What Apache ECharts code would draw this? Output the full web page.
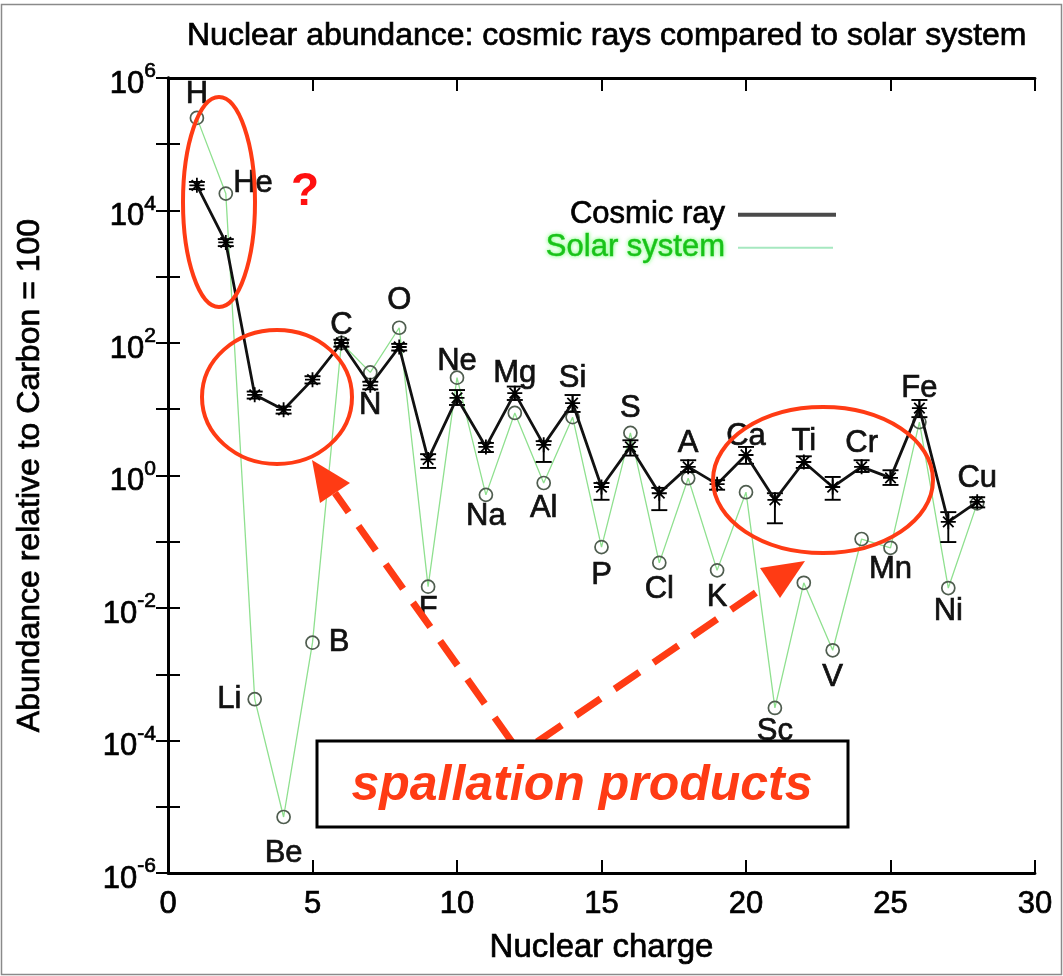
<!DOCTYPE html>
<html><head><meta charset="utf-8">
<script src="https://cdn.jsdelivr.net/npm/echarts@6/dist/echarts.min.js"></script>
<style>html,body{margin:0;padding:0;background:#fff}#c{width:1063px;height:976px}</style>
</head><body><div id="c"></div>
<script>
// ---------- data ----------
const elements = ['H','He','Li','Be','B','C','N','O','F','Ne','Na','Mg','Al','Si','P','S','Cl','A','K','Ca','Sc','Ti','V','Cr','Mn','Fe','Ni','Cu'];
const charges = [1,2,3,4,5,6,7,8,9,10,11,12,13,14,15,16,17,18,19,20,21,22,23,24,25,26,27,28];
const cosmicRay   = [2.4e4, 3.3e3, 16.5, 9.8, 28, 100, 23, 87, 1.75, 14.8, 2.7, 17.5, 2.9, 12.4, 0.67, 2.7, 0.54, 1.35, 0.74, 2.04, 0.43, 1.6, 0.67, 1.35, 0.92, 10.4, 0.20, 0.40];
const cosmicLow   = [2.1e4, 2.9e3, 14.5, 8.6, 24.5, 88, 20, 77, 1.30, 11.6, 2.26, 13.8, 1.6, 9.1, 0.43, 2.0, 0.30, 1.13, 0.61, 1.5, 0.19, 1.3, 0.43, 1.13, 0.72, 7.6, 0.099, 0.33];
const cosmicHigh  = [2.7e4, 3.7e3, 18.5, 11.0, 31.5, 112, 26, 97, 2.10, 19.5, 3.1, 22, 3.3, 16.4, 0.77, 3.4, 0.65, 1.7, 0.85, 2.7, 0.54, 1.95, 0.95, 1.7, 1.2, 13.8, 0.28, 0.47];
const solarSystem = [2.5e5, 1.8e4, 4.2e-4, 7e-6, 3e-3, 100, 36, 170, 0.021, 30, 0.51, 8.8, 0.77, 7.6, 0.083, 4.4, 0.048, 0.91, 0.037, 0.56, 3.1e-4, 0.024, 0.0023, 0.11, 0.081, 6.4, 0.020, 0.38];
const xTicks = [0, 5, 10, 15, 20, 25, 30];

// ---------- style: which series each element label sits on, side, distance ----------
const labelPlace = {
  H:['s','top',1], He:['s','right',0,[0,-10]], Li:['s','left',6], Be:['s','bottom',14], B:['s','right',9],
  C:['c','top',-6], N:['c','bottom',-4], O:['s','top',4], F:['s','bottom',0], Ne:['s','top',-7],
  Na:['s','bottom',-1], Mg:['c','top',-4], Al:['s','bottom',3], Si:['c','top',1], P:['s','bottom',5],
  S:['s','top',2], Cl:['s','bottom',4], A:['c','top',0], K:['s','bottom',4], Ca:['c','top',-5],
  Sc:['s','bottom',1], Ti:['c','top',-3], V:['s','bottom',4], Cr:['c','top',0], Mn:['s','bottom',-1],
  Fe:['c','top',-4], Ni:['s','bottom',1], Cu:['c','top',0]
};
const FONT = "'Liberation Sans', Arial, Helvetica, sans-serif";
const RED = '#ff3b14';
const heavy = (c) => ({ textBorderColor: c, textBorderWidth: 0.7 });

function items(values, key) {
  return values.map((v, i) => {
    const it = { value: [charges[i], v] };
    const p = labelPlace[elements[i]];
    if (p && p[0] === key) {
      it.label = Object.assign({ show: true, formatter: elements[i], position: p[1], distance: p[2],
        offset: p[3] || [0, 0], fontSize: 31, fontFamily: FONT, color: '#111' }, heavy('#111'));
    }
    return it;
  });
}

const chart = echarts.init(document.getElementById('c'), null, { renderer: 'canvas' });
const axisLineStyle = { color: '#000', width: 2.8 };
const option = {
  animation: false,
  backgroundColor: '#fff',
  title: {
    text: 'Nuclear abundance: cosmic rays compared to solar system',
    left: 182, top: 15,
    textStyle: Object.assign({ fontFamily: FONT, fontSize: 32, fontWeight: 'normal', color: '#000' }, heavy('#000'))
  },
  grid: { left: 168, right: 28, top: 78, bottom: 103, containLabel: false },
  legend: [
    { data: [{ name: 'Cosmic ray', icon: 'rect', itemStyle: { color: '#4a4a4a', borderWidth: 0 } }],
      right: 222, top: 194, align: 'right', itemWidth: 98, itemHeight: 4, itemGap: 0,
      selectedMode: false, textStyle: Object.assign({ fontFamily: FONT, fontSize: 31, color: '#000', padding: [0, 8, 0, 0] }, heavy('#000')) },
    { data: [{ name: 'Solar system', icon: 'rect', itemStyle: { color: '#a6e8c0', borderWidth: 0 } }],
      right: 225, top: 227, align: 'right', itemWidth: 95, itemHeight: 2, itemGap: 0,
      selectedMode: false, textStyle: { fontFamily: FONT, fontSize: 31, color: '#19c219',
        textShadowColor: '#7f7', textShadowBlur: 4, textBorderColor: '#19c219', textBorderWidth: 0.6, padding: [0, 8, 0, 0] } }
  ],
  xAxis: [
    { type: 'value', min: 0, max: 30, interval: 5, position: 'bottom',
      name: 'Nuclear charge', nameLocation: 'middle', nameGap: 58,
      nameTextStyle: Object.assign({ fontFamily: FONT, fontSize: 33, color: '#000' }, heavy('#000')),
      axisLine: { show: true, lineStyle: axisLineStyle },
      axisTick: { show: true, inside: true, length: 13, lineStyle: { color: '#000', width: 2 } },
      axisLabel: Object.assign({ fontFamily: FONT, fontSize: 31, color: '#000', margin: 16,
        formatter: v => xTicks.includes(v) ? String(v) : '' }, heavy('#000')),
      splitLine: { show: false } },
    { type: 'value', min: 0, max: 30, interval: 5, position: 'top',
      axisLine: { show: true, lineStyle: axisLineStyle },
      axisTick: { show: true, inside: true, length: 13, lineStyle: { color: '#000', width: 2 } },
      axisLabel: { show: false }, splitLine: { show: false } }
  ],
  yAxis: [
    { type: 'log', logBase: 10, min: 1e-6, max: 1e6, interval: 1, position: 'left',
      name: 'Abundance relative to Carbon = 100', nameLocation: 'middle', nameGap: 122,
      nameTextStyle: Object.assign({ fontFamily: FONT, fontSize: 32, color: '#000' }, heavy('#000')),
      axisLine: { show: true, lineStyle: axisLineStyle },
      axisTick: { show: true, inside: true, length: 12, lineStyle: { color: '#000', width: 2 } },
      axisLabel: { margin: 12, padding: [12, 0, 0, 0],
        formatter: v => { const e = Math.round(Math.log10(v)); return (e % 2) ? '' : '{b|10}{s|' + e + '}'; },
        rich: {
          b: Object.assign({ fontFamily: FONT, fontSize: 31, color: '#000', lineHeight: 46 }, heavy('#000')),
          s: Object.assign({ fontFamily: FONT, fontSize: 21, color: '#000', lineHeight: 21, verticalAlign: 'top' }, heavy('#000'))
        } },
      splitLine: { show: false } },
    { type: 'log', logBase: 10, min: 1e-6, max: 1e6, interval: 1, position: 'right',
      axisLine: { show: true, lineStyle: axisLineStyle },
      axisTick: { show: true, inside: true, length: 12, lineStyle: { color: '#000', width: 2 } },
      axisLabel: { show: false }, splitLine: { show: false } }
  ],
  series: [
    { name: 'Solar system', type: 'line', xAxisIndex: 0, yAxisIndex: 0, z: 2,
      data: items(solarSystem, 's'),
      symbol: 'circle', symbolSize: 13, showSymbol: true,
      lineStyle: { color: '#8fe08f', width: 1.3 },
      itemStyle: { color: 'rgba(255,255,255,0)', borderColor: '#4f5d4f', borderWidth: 1.7 } },
    { name: 'Cosmic ray errors', type: 'custom', xAxisIndex: 0, yAxisIndex: 0, z: 3,
      data: charges.map((c, i) => [c, cosmicLow[i], cosmicHigh[i]]),
      encode: { x: 0, y: [1, 2] },
      renderItem: (params, api) => {
        const x = api.value(0);
        const lo = api.coord([x, api.value(1)]);
        const hi = api.coord([x, api.value(2)]);
        const w = 8;
        const st = { stroke: '#000', lineWidth: 1.9 };
        return { type: 'group', children: [
          { type: 'line', shape: { x1: lo[0], y1: lo[1], x2: hi[0], y2: hi[1] }, style: st },
          { type: 'line', shape: { x1: lo[0] - w, y1: lo[1], x2: lo[0] + w, y2: lo[1] }, style: st },
          { type: 'line', shape: { x1: hi[0] - w, y1: hi[1], x2: hi[0] + w, y2: hi[1] }, style: st }
        ] };
      } },
    { name: 'Cosmic ray', type: 'line', xAxisIndex: 0, yAxisIndex: 0, z: 4,
      data: items(cosmicRay, 'c'),
      symbol: 'path://M0,-10L0,10M-10,0L10,0M-7,-7L7,7M-7,7L7,-7', symbolSize: 15, showSymbol: true,
      lineStyle: { color: '#111', width: 2.8 },
      itemStyle: { color: '#000', borderColor: '#000', borderWidth: 1.8 } }
  ],
  graphic: [
    { type: 'rect', shape: { x: 1.5, y: 4.5, width: 1060, height: 970 }, style: { fill: 'none', stroke: '#8a8a8a', lineWidth: 1.5 }, z: 0, silent: true },
    { type: 'ellipse', shape: { cx: 219, cy: 202, rx: 36, ry: 105 }, style: { fill: 'none', stroke: RED, lineWidth: 4 }, z: 100 },
    { type: 'ellipse', shape: { cx: 277, cy: 397, rx: 75, ry: 67 }, style: { fill: 'none', stroke: RED, lineWidth: 4 }, z: 100 },
    { type: 'ellipse', shape: { cx: 823, cy: 480, rx: 110, ry: 73 }, style: { fill: 'none', stroke: RED, lineWidth: 4 }, z: 100 },
    { type: 'text', x: 305, y: 192, style: { text: '?', fill: '#ff1010', font: "bold 46px " + FONT, align: 'center', verticalAlign: 'middle' }, z: 100 },
    { type: 'line', shape: { x1: 512, y1: 742, x2: 335, y2: 493 }, style: { stroke: RED, lineWidth: 7, lineDash: [30, 17] }, z: 100 },
    { type: 'polygon', shape: { points: [[312, 460], [350, 483], [320, 503]] }, style: { fill: RED }, z: 100 },
    { type: 'line', shape: { x1: 537, y1: 742, x2: 770, y2: 583 }, style: { stroke: RED, lineWidth: 7, lineDash: [30, 17] }, z: 100 },
    { type: 'polygon', shape: { points: [[805, 561], [780, 598], [760, 568]] }, style: { fill: RED }, z: 100 },
    { type: 'rect', shape: { x: 317, y: 741, width: 531, height: 86 }, style: { fill: '#fff', stroke: '#000', lineWidth: 3 }, z: 101 },
    { type: 'text', x: 582, y: 786, style: { text: 'spallation products', fill: RED, font: "italic bold 50px " + FONT, align: 'center', verticalAlign: 'middle' }, z: 102 }
  ]
};
chart.setOption(option);
</script>
</body></html>
